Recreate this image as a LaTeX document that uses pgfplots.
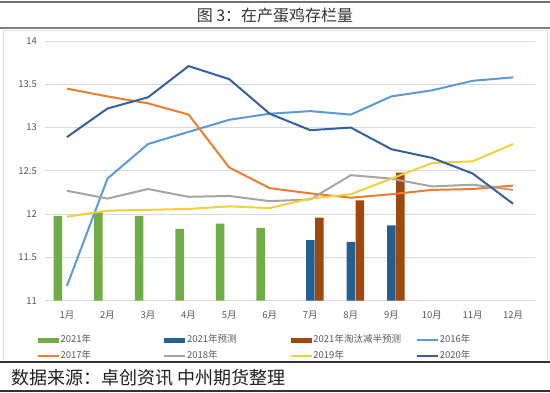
\documentclass[border=0pt]{standalone}
\usepackage{pgfplots}
\pgfplotsset{compat=1.18}
\usepackage{fontspec}
\setmainfont{Noto Sans CJK SC}
\definecolor{cgreen}{HTML}{70AD47}
\definecolor{cblue}{HTML}{255E91}
\definecolor{cbrown}{HTML}{9E480E}
\definecolor{c16}{HTML}{5B9BD5}
\definecolor{c17}{HTML}{ED7D31}
\definecolor{c18}{HTML}{A5A5A5}
\definecolor{c19}{HTML}{F2CF3B}
\definecolor{c20}{HTML}{35609E}
\definecolor{tick}{HTML}{595959}
\pgfplotsset{
  barleg/.style={legend image code/.code={\fill[#1] (0pt,-2.5pt) rectangle (21pt,2.5pt);}},
  lineleg/.style={legend image code/.code={\draw[#1, line width=1.4pt] (0pt,0pt) -- (21pt,0pt);}},
}
\begin{document}
\begin{tikzpicture}[x=1pt,y=1pt]
\useasboundingbox (0,0) rectangle (550,392);
\fill[white] (0,0) rectangle (550,392);
% frames
\draw[line width=0.8pt, draw=black!12] (3,30) rectangle (547,362);
\draw[line width=1.6pt, draw=black!55] (0,390) -- (550,390);
\draw[line width=1.4pt, draw=black!50] (0,364) -- (550,364);
\draw[line width=1.4pt, draw=black!80] (0,30) -- (550,30);
\draw[line width=1.4pt, draw=black!80] (0,1) -- (550,1);
\node[font=\fontsize{16}{18}\selectfont, text=black!80] at (275,377) {图 3：在产蛋鸡存栏量};
\node[font=\fontsize{18}{20}\selectfont, text=black!88, anchor=west, inner sep=0] at (11,14.5) {数据来源：卓创资讯 中州期货整理};
\begin{axis}[
  at={(45pt,91.3pt)}, anchor=south west,
  scale only axis, width=490pt, height=259.7pt,
  xmin=0.46, xmax=12.54, ymin=11, ymax=14,
  ytick={11,11.5,...,14},
  xtick={1,...,12},
  xticklabels={1月,2月,3月,4月,5月,6月,7月,8月,9月,10月,11月,12月},
  axis line style={draw=none},
  major tick length=0pt,
  ymajorgrids, grid style={draw=black!15, line width=0.8pt},
  /pgf/number format/assume math mode=true,
  tick label style={font=\fontsize{9.5}{11}\selectfont, text=tick},
  yticklabel style={inner sep=0pt, xshift=-8pt},
  xticklabel style={inner sep=0pt, yshift=-10pt},
  legend columns=4,
  legend cell align=left,
  legend style={at={(axis description cs:-0.0163,-0.13)}, anchor=north west,
    draw=none, fill=none, inner sep=0pt,
    font=\fontsize{9.5}{11}\selectfont, text=tick,
    nodes={inner sep=1pt, text height=7pt, text depth=2pt, text width=102pt, align=left},
    row sep=5pt, column sep=0pt},
]
\addplot[ybar, bar width=8.5pt, bar shift=-9pt, fill=cgreen, draw=none, barleg=cgreen]
  coordinates {(1,11.98) (2,12.03) (3,11.98) (4,11.83) (5,11.89) (6,11.84)};
\addlegendentry{2021年}
\addplot[ybar, bar width=8.5pt, bar shift=0pt, fill=cblue, draw=none, barleg=cblue]
  coordinates {(7,11.70) (8,11.68) (9,11.87)};
\addlegendentry{2021年预测}
\addplot[ybar, bar width=8.5pt, bar shift=9pt, fill=cbrown, draw=none, barleg=cbrown]
  coordinates {(7,11.96) (8,12.16) (9,12.48)};
\addlegendentry{2021年淘汰减半预测}
\addplot[c16, line width=2pt, mark=none, lineleg=c16] coordinates {
  (1,11.17) (2,12.41) (3,12.81) (4,12.95) (5,13.09) (6,13.16)
  (7,13.19) (8,13.15) (9,13.36) (10,13.43) (11,13.54) (12,13.58)};
\addlegendentry{2016年}
\addplot[c17, line width=2pt, mark=none, lineleg=c17] coordinates {
  (1,13.45) (2,13.36) (3,13.28) (4,13.15) (5,12.54) (6,12.30)
  (7,12.24) (8,12.19) (9,12.23) (10,12.28) (11,12.29) (12,12.33)};
\addlegendentry{2017年}
\addplot[c18, line width=2pt, mark=none, lineleg=c18] coordinates {
  (1,12.27) (2,12.18) (3,12.29) (4,12.20) (5,12.21) (6,12.15)
  (7,12.17) (8,12.45) (9,12.41) (10,12.32) (11,12.34) (12,12.28)};
\addlegendentry{2018年}
\addplot[c19, line width=2pt, mark=none, lineleg=c19] coordinates {
  (1,11.97) (2,12.04) (3,12.05) (4,12.06) (5,12.09) (6,12.07)
  (7,12.18) (8,12.23) (9,12.41) (10,12.59) (11,12.61) (12,12.81)};
\addlegendentry{2019年}
\addplot[c20, line width=2pt, mark=none, lineleg=c20] coordinates {
  (1,12.89) (2,13.22) (3,13.35) (4,13.71) (5,13.56) (6,13.16)
  (7,12.97) (8,13.00) (9,12.75) (10,12.65) (11,12.47) (12,12.12)};
\addlegendentry{2020年}
\end{axis}
\end{tikzpicture}
\end{document}
